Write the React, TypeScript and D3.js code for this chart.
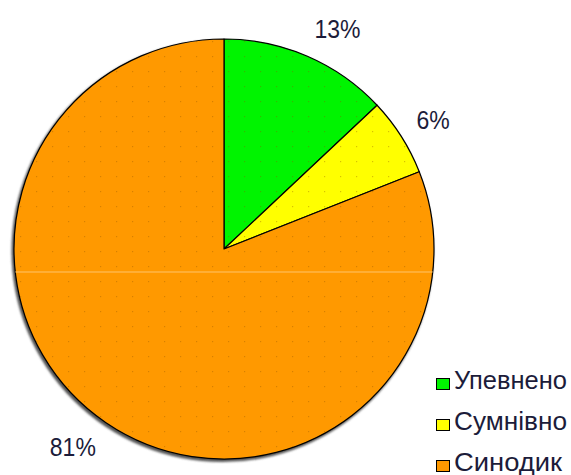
import React from "react";
import * as d3 from "d3";

const categories = ["Упевнено", "Сумнівно", "Синодик"];
const values = [13, 6, 81];
const colors = ["#00f400", "#ffff00", "#ff9900"];

const W = 571;
const H = 475;
const cx = 224;
const cy = 249;
const R = 210;

export default function App() {
  const pie = d3.pie<number>().sort(null).value((d) => d)(values);
  const arc = d3.arc<d3.PieArcDatum<number>>().innerRadius(0).outerRadius(R);
  const total = d3.sum(values);
  const fs = 25;
  const labelR = 228;

  return (
    <svg
      width={W}
      height={H}
      style={{ position: "absolute", left: 0, top: 0, background: "#fff" }}
      fontFamily="'Liberation Sans', Arial, sans-serif"
    >
      <defs>
        <pattern id="dots" width={16} height={15} patternUnits="userSpaceOnUse" x={cx + 4} y={cy + 2}>
          <rect x={0} y={0} width={1.2} height={1.2} fill="rgba(140,80,0,0.35)" />
        </pattern>
        <clipPath id="pieClip">
          <circle cx={cx} cy={cy} r={R} />
        </clipPath>
        <filter id="blur" x="-10%" y="-10%" width="120%" height="120%">
          <feGaussianBlur stdDeviation="1.2" />
        </filter>
      </defs>
      <circle cx={cx - 1.5} cy={cy + 2} r={R + 1} fill="#555" filter="url(#blur)" />
      <g transform={`translate(${cx},${cy})`}>
        {pie.map((p, i) => (
          <path key={i} d={arc(p) || ""} fill={colors[i]} stroke="#000" strokeWidth={1.2} strokeLinejoin="round" />
        ))}
      </g>
      <g clipPath="url(#pieClip)">
        <rect x={cx - R} y={cy - R} width={2 * R} height={2 * R} fill="url(#dots)" />
        <line x1={cx - R} x2={cx + R} y1={cy + 23} y2={cy + 23} stroke="#ffc46a" strokeWidth={1} />
      </g>
      {pie.map((p, i) => {
        const a = (p.startAngle + p.endAngle) / 2;
        const s = Math.sin(a);
        const c = Math.cos(a);
        const txt = `${Math.round((values[i] / total) * 100)}%`;
        const w = 23 * ((txt.length - 1) * 0.556 + 0.889);
        const x = cx + s * labelR + Math.sign(s) * (w / 2);
        const y = cy - c * labelR - c * 12;
        return (
          <text key={i} x={x} y={y} textAnchor="middle" dominantBaseline="central" fontSize={fs} fill="#1c1c3a"
            textLength={w} lengthAdjust="spacingAndGlyphs">
            {txt}
          </text>
        );
      })}
      {categories.map((name, i) => {
        const y0 = 378 + i * 41;
        return (
          <g key={name}>
            <rect x={436.5} y={y0 + 0.5} width={13} height={11} fill={colors[i]} stroke="#000" strokeWidth={1} />
            <text x={454} y={y0 + 11} fontSize={fs} fill="#1c1c3a" textLength={name.length === 8 ? 113 : 108} lengthAdjust="spacingAndGlyphs">
              {name}
            </text>
          </g>
        );
      })}
    </svg>
  );
}
